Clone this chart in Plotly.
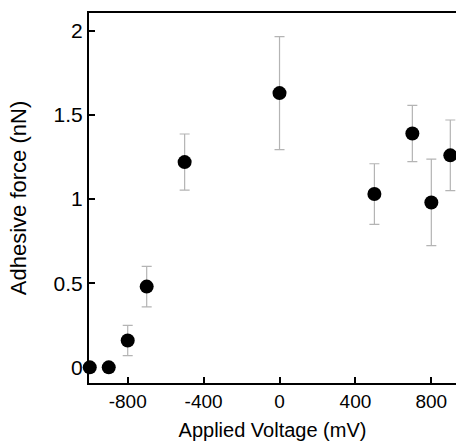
import plotly.graph_objects as go

voltage = [-1000, -900, -800, -700, -500, 0, 500, 700, 800, 900]
force = [0.0, 0.0, 0.16, 0.48, 1.22, 1.63, 1.03, 1.39, 0.98, 1.26]
force_err = [0.0, 0.0, 0.09, 0.12, 0.167, 0.336, 0.18, 0.167, 0.257, 0.21]

x_ticks = [-800, -400, 0, 400, 800]
y_ticks = [0, 0.5, 1, 1.5, 2]
y_tick_labels = ["0", "0.5", "1", "1.5", "2"]

fig = go.Figure()
fig.add_trace(go.Scatter(
    x=voltage, y=force, mode="markers",
    marker=dict(color="black", size=14, line=dict(width=0)),
    error_y=dict(type="data", array=force_err, visible=True,
                 color="#b4b4b4", thickness=1.2, width=5),
    cliponaxis=False, showlegend=False,
))

font_family = "Liberation Sans, Arial, sans-serif"
fig.update_layout(
    width=456, height=441,
    margin=dict(l=89, r=0, t=13, b=58),
    paper_bgcolor="white", plot_bgcolor="white",
    font=dict(family=font_family, color="black"),
)
fig.update_xaxes(
    range=[-1004, 930], tickvals=x_ticks, ticktext=[str(v) for v in x_ticks],
    showgrid=False, zeroline=False,
    showline=True, linecolor="black", linewidth=2, mirror=True,
    ticks="inside", ticklen=6, tickwidth=1.5, tickcolor="black",
    tickfont=dict(size=19),
    title=dict(text="Applied Voltage (mV)", font=dict(size=20), standoff=12),
)
fig.update_yaxes(
    range=[-0.093, 2.106], tickvals=y_ticks, ticktext=y_tick_labels,
    showgrid=False, zeroline=False,
    showline=True, linecolor="black", linewidth=2, mirror=False,
    ticks="inside", ticklen=6, tickwidth=1.5, tickcolor="black",
    tickfont=dict(size=21), ticklabelstandoff=0,
    title=dict(text="Adhesive force (nN)", font=dict(size=22), standoff=21),
)
fig.write_html(
    "out.html",
    config={"displayModeBar": False},
    post_script="document.body.style.margin='0';document.body.style.overflow='hidden';",
)
